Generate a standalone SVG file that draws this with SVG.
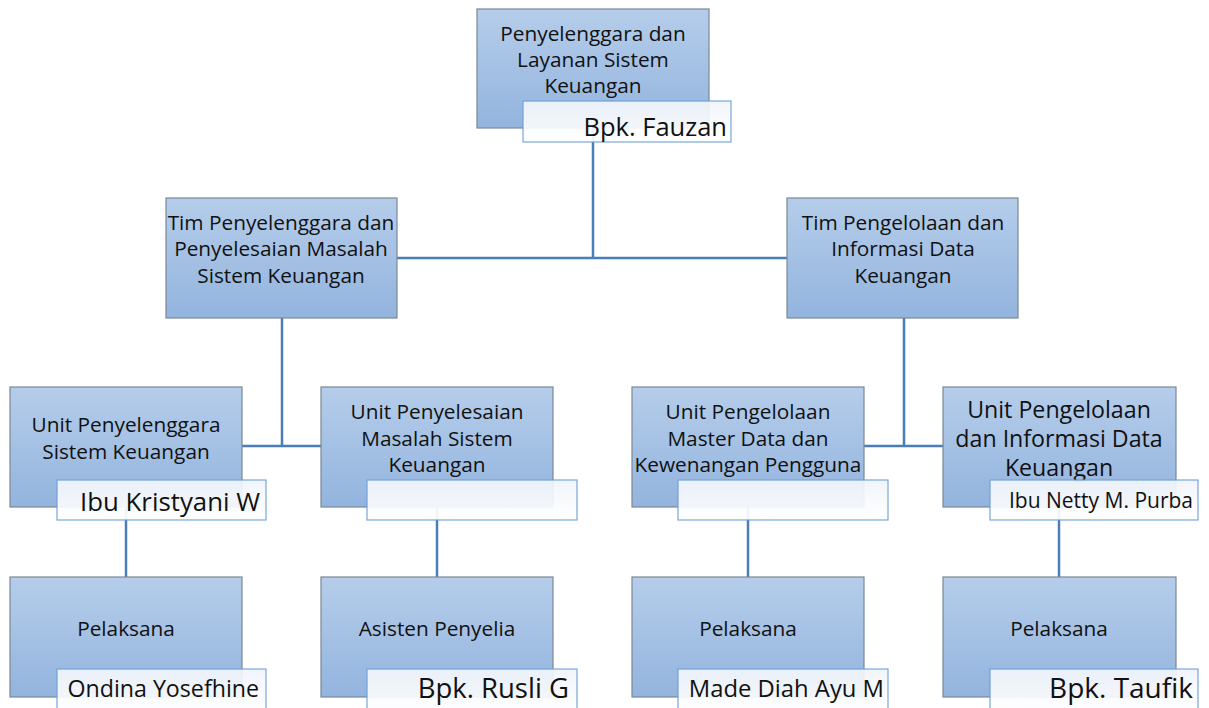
<svg xmlns="http://www.w3.org/2000/svg" width="1209" height="708" viewBox="0 0 1209 708">
<defs>
<linearGradient id="boxg" x1="0" y1="0" x2="0" y2="1">
<stop offset="0" stop-color="#b5cdea"/>
<stop offset="1" stop-color="#93b4de"/>
</linearGradient>
<linearGradient id="nameg" x1="0" y1="0" x2="0" y2="1">
<stop offset="0" stop-color="#f1f5fb"/>
<stop offset="1" stop-color="#ffffff"/>
</linearGradient>
</defs>
<style>
.box{fill:url(#boxg);stroke:#7a8794;stroke-width:1.2}
.name{fill:url(#nameg);stroke:#6fa1d8;stroke-width:1.2;opacity:0.93}
.t{font-family:"Open Sans",Lato,sans-serif;font-size:20.8px;fill:#111;text-anchor:middle}
.t4{font-size:23.2px}
.n{font-family:"Open Sans",Lato,sans-serif;fill:#111;text-anchor:end}
.c{stroke:#4a7ebb;stroke-width:2.5;fill:none}
</style>
<rect width="1209" height="708" fill="#ffffff"/>
<g id="connectors">
<path class="c" d="M593 128V258M397 258H787"/>
<path class="c" d="M282 318V446M242 446H321"/>
<path class="c" d="M904 318V446M864 446H943"/>
<path class="c" d="M126 507V577"/>
<path class="c" d="M437 507V577"/>
<path class="c" d="M748 507V577"/>
<path class="c" d="M1059 507V577"/>
</g>
<g id="n-top">
<rect class="box" x="477" y="9" width="232" height="119"/>
<text class="t" x="593" y="41">Penyelenggara dan<tspan x="593" dy="26">Layanan Sistem</tspan><tspan x="593" dy="26">Keuangan</tspan></text>
<rect class="name" x="523" y="101" width="208" height="41"/>
<text class="n" x="727" y="136" font-size="25.5">Bpk. Fauzan</text>
</g>
<g id="n-tim1">
<rect class="box" x="166" y="198" width="231" height="120"/>
<text class="t" x="281" y="230">Tim Penyelenggara dan<tspan x="281" dy="26">Penyelesaian Masalah</tspan><tspan x="281" dy="27">Sistem Keuangan</tspan></text>
</g>
<g id="n-tim2">
<rect class="box" x="787" y="198" width="231" height="120"/>
<text class="t" x="903" y="230">Tim Pengelolaan dan<tspan x="903" dy="26">Informasi Data</tspan><tspan x="903" dy="27">Keuangan</tspan></text>
</g>
<g id="n-unit1">
<rect class="box" x="10" y="387" width="232" height="120"/>
<text class="t" x="126" y="432">Unit Penyelenggara<tspan x="126" dy="27">Sistem Keuangan</tspan></text>
<rect class="name" x="57" y="480" width="209" height="40"/>
<text class="n" x="260" y="511" font-size="25.8">Ibu Kristyani W</text>
</g>
<g id="n-unit2">
<rect class="box" x="321" y="387" width="232" height="120"/>
<text class="t" x="437" y="419">Unit Penyelesaian<tspan x="437" dy="27">Masalah Sistem</tspan><tspan x="437" dy="26">Keuangan</tspan></text>
<rect class="name" x="367" y="480" width="210" height="40"/>
</g>
<g id="n-unit3">
<rect class="box" x="632" y="387" width="232" height="120"/>
<text class="t" x="748" y="419">Unit Pengelolaan<tspan x="748" dy="27">Master Data dan</tspan><tspan x="748" dy="26">Kewenangan Pengguna</tspan></text>
<rect class="name" x="678" y="480" width="210" height="40"/>
</g>
<g id="n-unit4">
<rect class="box" x="943" y="387" width="233" height="120"/>
<text class="t t4" x="1059" y="418">Unit Pengelolaan<tspan x="1059" dy="29">dan Informasi Data</tspan><tspan x="1059" dy="29">Keuangan</tspan></text>
<rect class="name" x="990" y="480" width="208" height="40"/>
<text class="n" x="1193" y="508" font-size="21">Ibu Netty M. Purba</text>
</g>
<g id="n-pel1">
<rect class="box" x="10" y="577" width="232" height="120"/>
<text class="t" x="126" y="636">Pelaksana</text>
<rect class="name" x="57" y="669" width="209" height="45"/>
<text class="n" x="259" y="697" font-size="23.2">Ondina Yosefhine</text>
</g>
<g id="n-asis">
<rect class="box" x="321" y="577" width="232" height="120"/>
<text class="t" x="437" y="636">Asisten Penyelia</text>
<rect class="name" x="367" y="669" width="210" height="45"/>
<text class="n" x="569" y="698" font-size="27.5">Bpk. Rusli G</text>
</g>
<g id="n-pel3">
<rect class="box" x="632" y="577" width="232" height="120"/>
<text class="t" x="748" y="636">Pelaksana</text>
<rect class="name" x="678" y="669" width="210" height="45"/>
<text class="n" x="884" y="697" font-size="23.8">Made Diah Ayu M</text>
</g>
<g id="n-pel4">
<rect class="box" x="943" y="577" width="233" height="120"/>
<text class="t" x="1059" y="636">Pelaksana</text>
<rect class="name" x="990" y="669" width="208" height="45"/>
<text class="n" x="1193" y="698" font-size="28">Bpk. Taufik</text>
</g>
</svg>
